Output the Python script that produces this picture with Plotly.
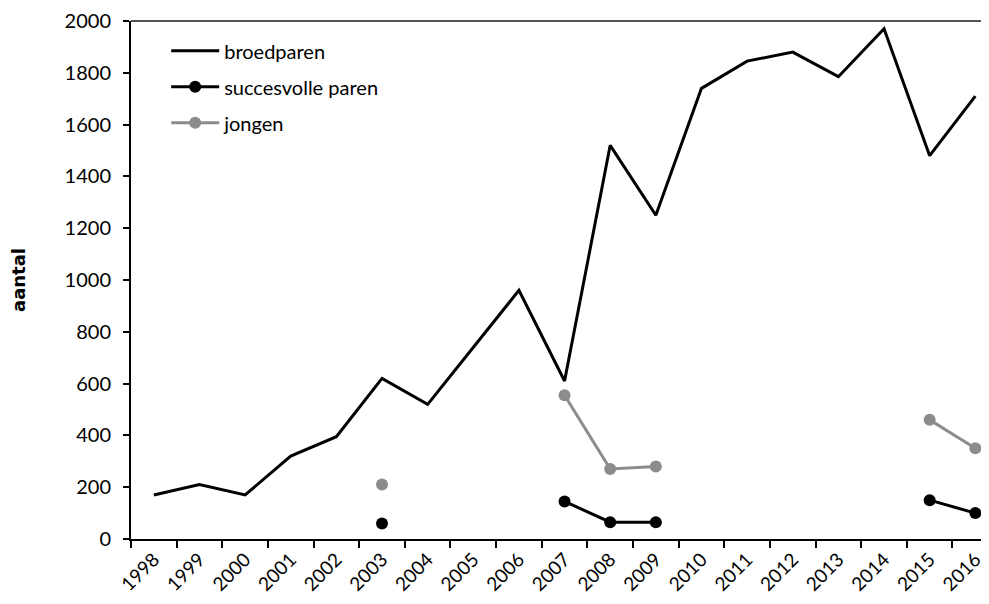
import plotly.graph_objects as go

years = [str(y) for y in range(1998, 2017)]

broedparen = [170, 210, 170, 320, 395, 620, 520, 740, 960, 610,
              1520, 1250, 1740, 1845, 1880, 1785, 1970, 1480, 1710]
succesvolle_paren = [None, None, None, None, None, 60, None, None, None, 145,
                     65, 65, None, None, None, None, None, 150, 100]
jongen = [None, None, None, None, None, 210, None, None, None, 555,
          270, 280, None, None, None, None, None, 460, 350]

FONT = "Lato"

fig = go.Figure()
fig.add_trace(go.Scatter(x=years, y=broedparen, name="broedparen", mode="lines",
                         legendgroup="a", line=dict(color="black", width=3)))
fig.add_trace(go.Scatter(x=years, y=succesvolle_paren, name="succesvolle paren",
                         mode="lines+markers", legendgroup="b",
                         line=dict(color="black", width=3),
                         marker=dict(color="black", size=12)))
fig.add_trace(go.Scatter(x=years, y=jongen, name="jongen", mode="lines+markers",
                         legendgroup="c", line=dict(color="#8c8c8c", width=3),
                         marker=dict(color="#8c8c8c", size=12)))

# body of the page has an 8px margin, so the figure is shrunk by that much
fig.update_layout(
    width=981, height=596,
    margin=dict(l=123, r=0, t=13, b=65),
    plot_bgcolor="white", paper_bgcolor="white",
    font=dict(family=FONT, size=20, color="black"),
    showlegend=True,
    legend=dict(x=0.041, y=0.98, xanchor="left", yanchor="top",
                bgcolor="rgba(0,0,0,0)", font=dict(size=20), itemwidth=48,
                tracegroupgap=7),
    shapes=[dict(type="line", xref="paper", yref="paper", x0=0, x1=1, y0=1, y1=1,
                 line=dict(color="#555555", width=2))],
)
# the original plot runs slightly past the right edge of the image
fig.update_xaxes(type="category", range=[-0.5, 18.3], showline=True,
                 linecolor="black", linewidth=2,
                 ticks="outside", ticklen=7, tickwidth=2, tickcolor="black",
                 tickson="boundaries", tickangle=-45, showgrid=False,
                 automargin=False, tickfont=dict(size=19))
fig.update_yaxes(range=[0, 2000], dtick=200, showline=True, linecolor="black",
                 linewidth=2, ticks="outside", ticklen=6, tickwidth=2,
                 tickcolor="black", showgrid=False, zeroline=False,
                 automargin=False, tickfont=dict(size=20), ticklabelstandoff=8,
                 title=dict(text="<b>aantal</b>", standoff=42,
                            font=dict(family="DejaVu Sans", size=18)))

fig.write_html("out.html")
